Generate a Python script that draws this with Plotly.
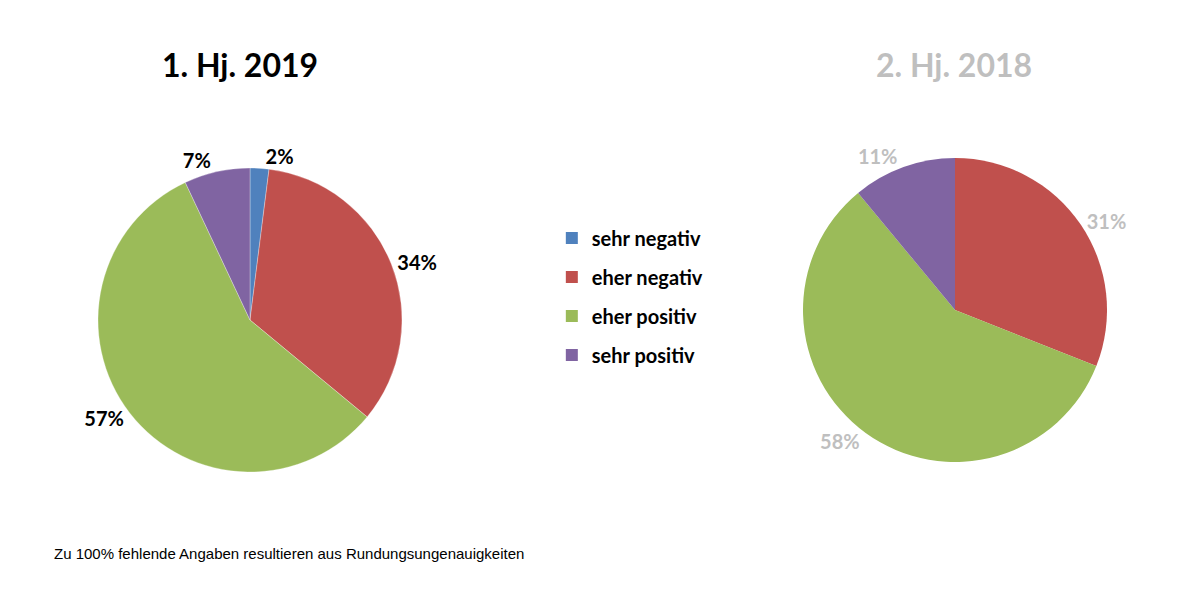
import plotly.graph_objects as go

# Anteile je Halbjahr (in %)
categories = ["sehr negativ", "eher negativ", "eher positiv", "sehr positiv"]
values_2019_h1 = [2, 34, 57, 7]
values_2018_h2 = [0, 31, 58, 11]
colors = ["#4F81BD", "#C0504D", "#9BBB59", "#8064A2"]

title_left = "1. Hj. 2019"
title_right = "2. Hj. 2018"
footnote = "Zu 100% fehlende Angaben resultieren aus Rundungsungenauigkeiten"

FONT = "Lato"
W, H = 1190, 591
OFF = 8  # default body margin of the page


def px_x(x):
    return (x - OFF) / W


def px_y(y):
    return 1 - (y - OFF) / H


def pct_labels(vals):
    return ["" if v == 0 else f"{v}%" for v in vals]


fig = go.Figure()

fig.add_trace(go.Pie(
    labels=categories,
    values=values_2019_h1,
    text=pct_labels(values_2019_h1),
    textinfo="text",
    textposition="outside",
    textfont=dict(family=FONT, size=20, color="#000000", weight="bold"),
    marker=dict(colors=colors, line=dict(color="rgba(255,255,255,0.5)", width=0.6)),
    sort=False,
    direction="clockwise",
    rotation=0,
    showlegend=False,
    domain=dict(x=[px_x(98), px_x(402)], y=[px_y(472), px_y(168)]),
))

fig.add_trace(go.Pie(
    labels=categories,
    values=values_2018_h2,
    text=pct_labels(values_2018_h2),
    textinfo="text",
    textposition="outside",
    textfont=dict(family=FONT, size=20, color="#BFBFBF", weight="bold"),
    marker=dict(colors=colors, line=dict(width=0)),
    sort=False,
    direction="clockwise",
    rotation=0,
    showlegend=False,
    domain=dict(x=[px_x(803), px_x(1107)], y=[px_y(462), px_y(158)]),
))

# Legendeneinträge (eigene Gruppen, damit der Abstand wie im Original ist)
for name, col in zip(categories, colors):
    fig.add_trace(go.Scatter(
        x=[None], y=[None], mode="markers", name=name,
        marker=dict(symbol="square", size=12, color=col),
        legendgroup=name, showlegend=True,
    ))

fig.update_layout(
    width=W,
    height=H,
    margin=dict(l=0, r=0, t=0, b=0),
    paper_bgcolor="white",
    plot_bgcolor="white",
    xaxis=dict(visible=False),
    yaxis=dict(visible=False),
    legend=dict(
        x=0.457, y=0.6437, xanchor="left", yanchor="top",
        font=dict(family=FONT, size=20, color="#000000", weight="bold"),
        tracegroupgap=10,
        itemclick=False, itemdoubleclick=False,
        bgcolor="rgba(0,0,0,0)",
    ),
    annotations=[
        dict(text=title_left, x=px_x(240), y=px_y(65), xref="paper", yref="paper",
             xanchor="center", yanchor="middle", showarrow=False,
             font=dict(family=FONT, size=32, color="#000000", weight="bold")),
        dict(text=title_right, x=px_x(954), y=px_y(65), xref="paper", yref="paper",
             xanchor="center", yanchor="middle", showarrow=False,
             font=dict(family=FONT, size=32, color="#BFBFBF", weight="bold")),
        dict(text=footnote, x=px_x(52), y=px_y(553), xref="paper", yref="paper",
             xanchor="left", yanchor="middle", showarrow=False,
             font=dict(family="Liberation Sans", size=15, color="#000000")),
    ],
)

fig.write_html("out.html")
